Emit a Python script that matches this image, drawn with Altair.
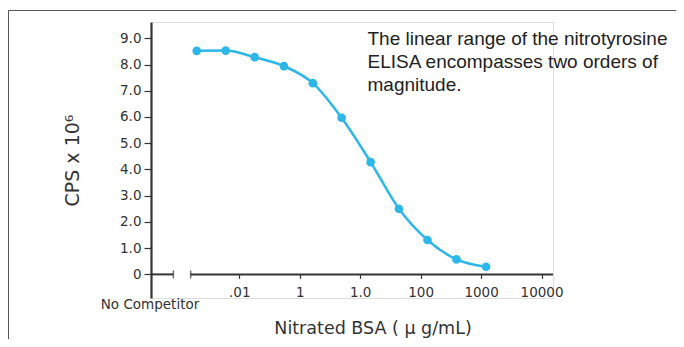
import altair as alt
import pandas as pd

# ---- data ----
conc = [0.00198, 0.00596, 0.0180, 0.0548, 0.165, 0.493, 1.49, 4.37, 13.0, 39.2, 121.0]
cps = [8.52, 8.53, 8.28, 7.94, 7.29, 5.97, 4.28, 2.50, 1.31, 0.57, 0.29]

x_tick_values = [0.01, 0.1, 1, 10, 100, 1000]
x_tick_labels = [".01", "1", "1.0", "100", "1000", "10000"]
y_tick_values = [0, 1, 2, 3, 4, 5, 6, 7, 8, 9]

no_comp_label = ["No Competitor"]
note_lines = [
    "The linear range of the nitrotyrosine",
    "ELISA encompasses two orders of",
    "magnitude.",
]
x_title = "Nitrated BSA ( \u03bc g/mL)"
y_title = "CPS x 10\u2076"

x_domain = [0.000347, 1549]
y_domain = [-0.9, 9.62]
axis_break = [0.000814, 0.00157]

# ---- styling ----
W, H = 402, 276
BLUE = "#2db7e9"
DARK = "#333333"
LABEL_FONT = "DejaVu Sans"
NOTE_FONT = "Liberation Sans"

df = pd.DataFrame({"conc": conc, "cps": cps})
seg_df = pd.DataFrame({"x": [x_domain[0], axis_break[1]], "x2": [axis_break[0], x_domain[1]]})
brk_df = pd.DataFrame({"x": axis_break})
nc_df = pd.DataFrame({"x": [x_domain[0]], "label": no_comp_label})

label_expr = ""
for v, lab in zip(x_tick_values, x_tick_labels):
    label_expr += f"datum.value == {v} ? '{lab}' : "
label_expr += "''"

xscale = alt.Scale(type="log", domain=x_domain, nice=False, zero=False)
yscale = alt.Scale(domain=y_domain, nice=False, zero=False)

xaxis = alt.Axis(
    values=x_tick_values, labelExpr=label_expr, domain=False, grid=False,
    tickSize=4, tickColor=DARK, tickWidth=1.2, labelPadding=7, offset=-23.6,
    labelFont=LABEL_FONT, labelFontSize=13.5, labelColor=DARK, labelOverlap=False,
    title=x_title, titleFont=LABEL_FONT, titleFontSize=17.5, titleFontWeight="normal",
    titleColor=DARK, titleX=221.5, titleY=59.5, titleAlign="center",
    titleBaseline="alphabetic", titleAnchor=None,
)
yaxis = alt.Axis(
    values=y_tick_values,
    labelExpr="datum.value == 0 ? '0' : format(datum.value, '.1f')",
    domain=True, domainColor=DARK, domainWidth=2.2, grid=False,
    tickSize=7, tickColor=DARK, tickWidth=1.2, labelPadding=3, labelOverlap=False,
    labelFont=LABEL_FONT, labelFontSize=13.5, labelColor=DARK,
    title=y_title, titleFont=LABEL_FONT, titleFontSize=19, titleFontWeight="normal",
    titleColor=DARK, titleAngle=-90, titleX=-73, titleY=138, titleAlign="center",
    titleBaseline="alphabetic",
)

X = lambda f: alt.X(f, type="quantitative", scale=xscale, axis=xaxis)
Y = lambda f: alt.Y(f, type="quantitative", scale=yscale, axis=yaxis)
Y0 = alt.datum(0, scale=yscale, axis=yaxis)

line = alt.Chart(df).mark_line(interpolate="monotone", color=BLUE, strokeWidth=2.5).encode(
    x=X("conc"), y=Y("cps"))
pts = alt.Chart(df).mark_circle(size=75, color=BLUE, opacity=1).encode(
    x=X("conc"), y=Y("cps"))

axis_line = alt.Chart(seg_df).mark_rule(color=DARK, strokeWidth=2).encode(
    x=X("x"), x2="x2", y=Y0)
breaks = alt.Chart(brk_df).mark_tick(orient="vertical", size=8, thickness=1.5, color=DARK).encode(
    x=X("x"), y=Y0)
nocomp = alt.Chart(nc_df).mark_text(
    font=LABEL_FONT, fontSize=13.5, color=DARK, align="center", baseline="alphabetic", dx=-1
).encode(x=X("x"), y=alt.value(287), text="label:N")

note = alt.Chart(pd.DataFrame({"k": [0]})).mark_text(
    text=note_lines, font=NOTE_FONT, fontSize=19, color="#222222",
    align="left", baseline="alphabetic", lineHeight=23,
).encode(x=alt.value(216.5), y=alt.value(23))

frame_left = alt.Chart(pd.DataFrame({"k": [0]})).mark_rule(color="#555555", strokeWidth=1).encode(
    x=alt.value(-142.5), y=alt.value(-11.5), y2=alt.value(400))
frame_top = alt.Chart(pd.DataFrame({"k": [0]})).mark_rule(color="#555555", strokeWidth=1).encode(
    x=alt.value(-142.5), x2=alt.value(700), y=alt.value(-11.5))

chart = alt.layer(
    frame_left, frame_top, axis_line, breaks, line, pts, nocomp, note
).properties(
    width=W, height=H,
    autosize=alt.AutoSizeParams(type="none"),
    padding={"left": 143, "top": 14, "right": 123, "bottom": 41},
).configure_view(stroke=None).configure(background="white")

chart.save("out.html", embed_options={"renderer": "svg", "actions": False})
